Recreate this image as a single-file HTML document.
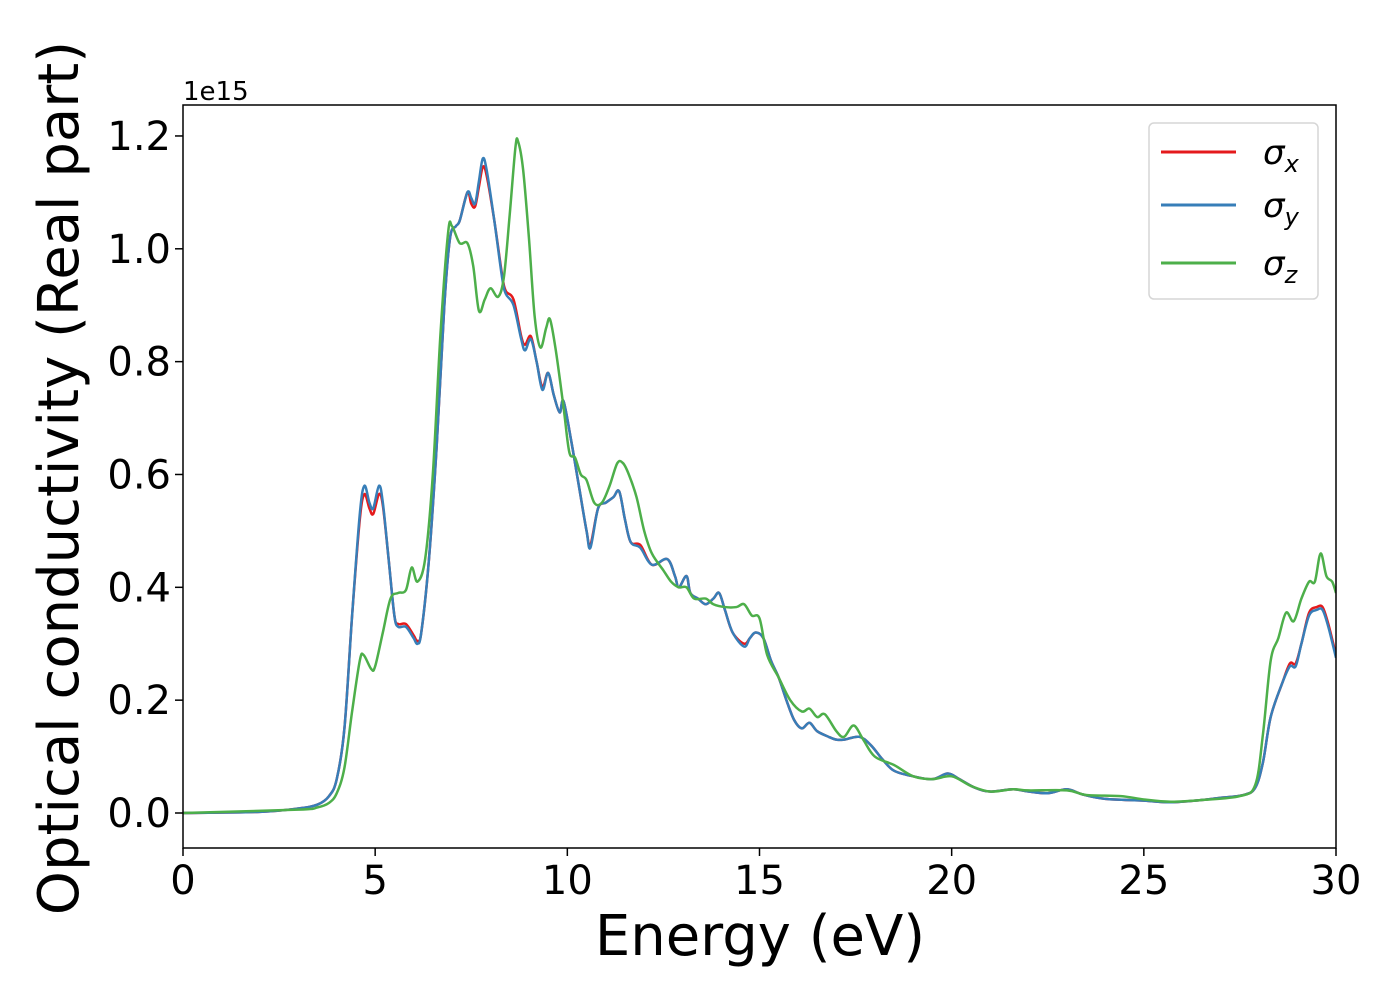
<!DOCTYPE html>
<html><head><meta charset="utf-8"><style>
body{margin:0;background:#fff}
svg{display:block;font-family:"DejaVu Sans","Liberation Sans",sans-serif}
</style></head><body>
<svg id="chart" width="1400" height="1000">
<rect x="0" y="0" width="1400" height="1000" fill="#fff"/>
<g id="plot"></g>
<g id="axes"></g>
<text x="183" y="100" font-size="26">1e15</text>
<text x="760" y="955" font-size="56" text-anchor="middle">Energy (eV)</text>
<text transform="translate(78,478) rotate(-90)" font-size="56" text-anchor="middle">Optical conductivity (Real part)</text>
<g>
<rect x="1149" y="123" width="169" height="176" rx="5" fill="#fff" fill-opacity="0.8" stroke="#d6d6d6" stroke-width="1.5"/>
<line x1="1161" y1="152" x2="1236" y2="152" stroke="#e41a1c" stroke-width="3"/>
<text x="1263" y="164" font-size="34" font-style="italic">σ<tspan font-size="24" dy="8">x</tspan></text>
<line x1="1161" y1="205" x2="1236" y2="205" stroke="#377eb8" stroke-width="3"/>
<text x="1263" y="217" font-size="34" font-style="italic">σ<tspan font-size="24" dy="8">y</tspan></text>
<line x1="1161" y1="263" x2="1236" y2="263" stroke="#4daf4a" stroke-width="3"/>
<text x="1263" y="275" font-size="34" font-style="italic">σ<tspan font-size="24" dy="8">z</tspan></text>
</g>
</svg>
<script>
const xTicks=[0,5,10,15,20,25,30];
const yTicks=[0,0.2,0.4,0.6,0.8,1.0,1.2];
const sigmaYE=[0,2,3,3.5,3.8,4.0,4.2,4.4,4.6,4.72,4.85,4.95,5.1,5.2,5.35,5.5,5.6,5.8,6.0,6.1,6.2,6.4,6.6,6.8,6.95,7.1,7.2,7.4,7.5,7.6,7.7,7.8,7.9,8.1,8.3,8.4,8.6,8.8,8.9,9.05,9.2,9.35,9.5,9.65,9.8,9.9,10.1,10.3,10.5,10.6,10.8,11.0,11.2,11.35,11.5,11.65,11.9,12.2,12.6,12.8,12.9,13.1,13.2,13.4,13.6,13.8,13.95,14.1,14.3,14.6,14.75,14.9,15.1,15.3,15.5,15.7,15.9,16.1,16.3,16.5,16.8,17.0,17.2,17.6,17.9,18.2,18.5,19,19.5,19.9,20.2,20.6,21,21.6,22.0,22.5,23,23.4,24,25,25.7,26.5,27,27.6,27.9,28.1,28.3,28.6,28.8,28.95,29.1,29.3,29.5,29.65,29.8,30];
const sigmaY=[0,0.002,0.008,0.015,0.03,0.06,0.15,0.35,0.53,0.58,0.55,0.54,0.58,0.55,0.45,0.35,0.33,0.33,0.31,0.30,0.32,0.45,0.65,0.9,1.02,1.04,1.05,1.1,1.09,1.08,1.12,1.16,1.14,1.05,0.95,0.92,0.9,0.84,0.82,0.84,0.8,0.75,0.78,0.74,0.71,0.73,0.66,0.58,0.5,0.47,0.54,0.55,0.56,0.57,0.52,0.48,0.47,0.44,0.45,0.42,0.4,0.42,0.39,0.38,0.37,0.38,0.39,0.36,0.32,0.295,0.31,0.32,0.31,0.27,0.24,0.2,0.165,0.15,0.16,0.145,0.135,0.13,0.13,0.135,0.12,0.095,0.075,0.065,0.06,0.07,0.06,0.045,0.038,0.042,0.038,0.035,0.042,0.033,0.025,0.022,0.019,0.023,0.027,0.032,0.045,0.09,0.17,0.23,0.26,0.26,0.3,0.35,0.36,0.36,0.33,0.275];
const sigmaX=[0,0.002,0.008,0.015,0.03,0.06,0.15,0.35,0.52,0.565,0.54,0.53,0.565,0.545,0.45,0.35,0.335,0.335,0.315,0.305,0.32,0.45,0.65,0.9,1.02,1.04,1.05,1.1,1.08,1.075,1.11,1.145,1.13,1.05,0.955,0.925,0.91,0.845,0.83,0.845,0.8,0.755,0.78,0.74,0.71,0.73,0.66,0.58,0.5,0.475,0.54,0.55,0.56,0.57,0.52,0.48,0.475,0.44,0.45,0.42,0.4,0.42,0.39,0.38,0.37,0.38,0.39,0.36,0.32,0.3,0.31,0.32,0.31,0.27,0.24,0.2,0.165,0.15,0.16,0.145,0.135,0.13,0.13,0.135,0.12,0.095,0.075,0.065,0.06,0.07,0.06,0.045,0.038,0.042,0.038,0.035,0.042,0.033,0.025,0.022,0.019,0.023,0.027,0.032,0.045,0.09,0.17,0.23,0.265,0.265,0.3,0.355,0.365,0.365,0.335,0.28];
const sigmaZE=[0,3,3.5,3.8,4.0,4.2,4.4,4.6,4.7,4.9,5.0,5.2,5.4,5.6,5.8,5.95,6.1,6.3,6.5,6.7,6.9,7.0,7.2,7.4,7.55,7.7,7.85,8.0,8.2,8.35,8.5,8.65,8.72,8.85,9.0,9.15,9.3,9.45,9.55,9.7,9.9,10.05,10.2,10.35,10.5,10.7,10.9,11.1,11.3,11.45,11.6,11.8,12.0,12.2,12.5,12.7,12.9,13.1,13.3,13.6,13.8,14.1,14.4,14.6,14.8,15.0,15.2,15.5,15.8,16.1,16.3,16.5,16.7,17.0,17.2,17.45,17.7,18.0,18.5,19,19.5,20,20.5,21,21.6,22,23,23.5,24.4,25,25.7,26.5,27.5,27.9,28.1,28.3,28.5,28.7,28.9,29.1,29.3,29.45,29.6,29.75,29.9,30];
const sigmaZ=[0,0.006,0.01,0.018,0.035,0.08,0.18,0.27,0.28,0.255,0.26,0.32,0.38,0.39,0.395,0.435,0.41,0.45,0.6,0.85,1.03,1.04,1.01,1.01,0.97,0.89,0.91,0.93,0.915,0.95,1.06,1.18,1.19,1.14,1.02,0.88,0.825,0.86,0.875,0.82,0.72,0.64,0.63,0.6,0.59,0.55,0.55,0.58,0.62,0.62,0.6,0.56,0.5,0.46,0.43,0.41,0.4,0.4,0.38,0.38,0.37,0.365,0.365,0.37,0.35,0.345,0.28,0.24,0.2,0.18,0.185,0.17,0.175,0.145,0.135,0.155,0.13,0.1,0.085,0.065,0.06,0.065,0.048,0.038,0.042,0.04,0.04,0.032,0.03,0.024,0.02,0.023,0.03,0.05,0.14,0.27,0.31,0.355,0.34,0.38,0.41,0.41,0.46,0.42,0.41,0.39];
const X0=183,X1=1336,Y0=105,Y1=848;
const xs=v=>X0+(X1-X0)*v/30;
const ys=v=>813-v*564.2;
const NS='http://www.w3.org/2000/svg';
const plot=document.getElementById('plot'),axes=document.getElementById('axes');
function mk(t,a,p){const e=document.createElementNS(NS,t);for(const k in a)e.setAttribute(k,a[k]);p.appendChild(e);return e;}
function smooth(E,V){const P=E.map((e,i)=>[xs(e),ys(V[i])]);let d='M'+P[0][0]+','+P[0][1];
for(let i=0;i<P.length-1;i++){const p0=P[Math.max(i-1,0)],p1=P[i],p2=P[i+1],p3=P[Math.min(i+2,P.length-1)];
d+=' C'+(p1[0]+(p2[0]-p0[0])/6)+','+(p1[1]+(p2[1]-p0[1])/6)+' '+(p2[0]-(p3[0]-p1[0])/6)+','+(p2[1]-(p3[1]-p1[1])/6)+' '+p2[0]+','+p2[1];}return d;}
const series=[['sigma-x',sigmaYE,sigmaX,'#e41a1c'],['sigma-y',sigmaYE,sigmaY,'#377eb8'],['sigma-z',sigmaZE,sigmaZ,'#4daf4a']];
mk('clipPath',{id:'clip'},plot).appendChild(document.createElementNS(NS,'rect'));
const cr=plot.querySelector('clipPath rect');cr.setAttribute('x',X0);cr.setAttribute('y',Y0);cr.setAttribute('width',X1-X0);cr.setAttribute('height',Y1-Y0);
series.forEach(s=>{const p=mk('path',{d:smooth(s[1],s[2]),fill:'none',stroke:s[3],'stroke-width':2.5,'stroke-linejoin':'round','clip-path':'url(#clip)'},plot);

});
const fr=mk('rect',{x:X0,y:Y0,width:X1-X0,height:Y1-Y0,fill:'none',stroke:'#000','stroke-width':1.5},axes);


xTicks.forEach(t=>{const x=xs(t);mk('line',{x1:x,y1:Y1,x2:x,y2:Y1+8,stroke:'#000','stroke-width':1.5},axes);
const tx=mk('text',{x:x,y:Y1+46,'font-size':40,'text-anchor':'middle'},axes);tx.textContent=t;

});
yTicks.forEach(t=>{const y=ys(t);mk('line',{x1:X0-8,y1:y,x2:X0,y2:y,stroke:'#000','stroke-width':1.5},axes);
const tx=mk('text',{x:X0-12,y:y+14,'font-size':40,'text-anchor':'end'},axes);tx.textContent=t.toFixed(1);

});
</script>
</body></html>
